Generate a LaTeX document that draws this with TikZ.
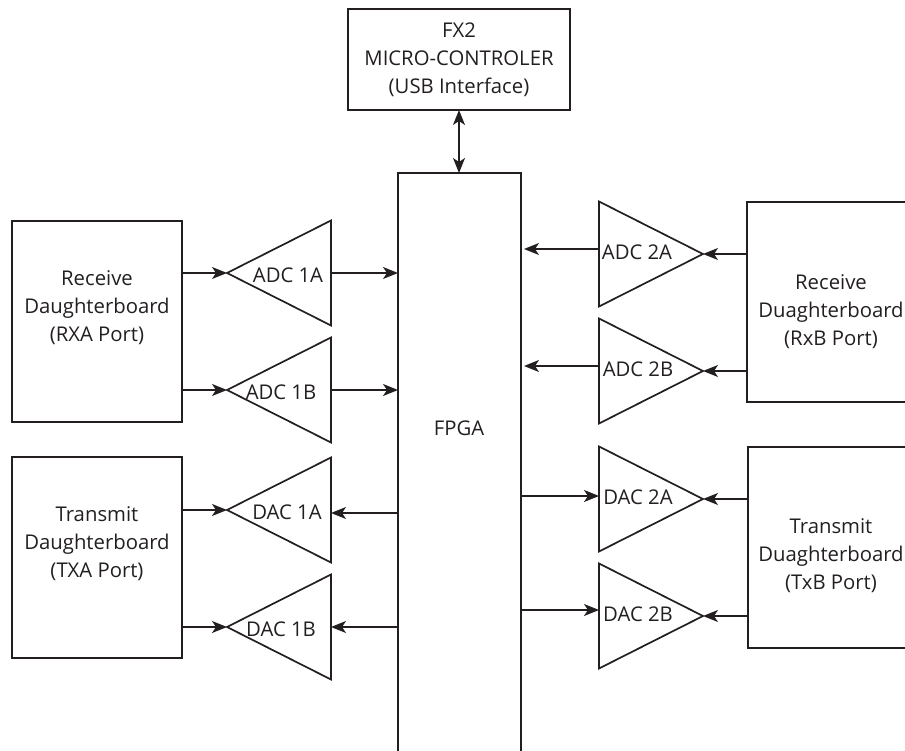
\documentclass[tikz,border=0pt]{standalone}
\usepackage{fontspec}
\setmainfont{Open Sans}
\usetikzlibrary{shapes.geometric,arrows.meta,calc}
\definecolor{ink}{RGB}{35,31,32}
\begin{document}
\begin{tikzpicture}[x=1pt,y=-1pt,
  box/.style={draw=ink, line width=1.7pt, rectangle, inner sep=0pt, outer sep=0pt},
  amp/.style={draw=ink, line width=1.7pt, isosceles triangle, isosceles triangle stretches,
              minimum width=105pt, minimum height=104pt, inner sep=0pt, outer sep=0pt},
  txt/.style={text=ink, font=\fontsize{20.3}{28}\selectfont, align=center, inner sep=0pt},
  arr/.style={draw=ink, line width=1.7pt, -{Stealth[length=15pt,width=12pt,inset=4pt]}},
  dbl/.style={draw=ink, line width=1.7pt, {Stealth[length=15pt,width=12pt,inset=4pt]}-{Stealth[length=15pt,width=12pt,inset=4pt]}}
]
\useasboundingbox (0,0) rectangle (905,751);
\clip (0,0) rectangle (905,751);

% main blocks
\node[box, minimum width=222pt, minimum height=101pt] (fx2) at (459,59.5) {};
\node[txt] (fx2T) at (459,60) {FX2\\MICRO-CONTROLER\\(USB Interface)};
\node[box, minimum width=123pt, minimum height=620pt, anchor=north] (fpga) at (459.5,173) {};
\node[txt] (fpgaT) at (459,428) {FPGA};

% daughterboards
\node[box, minimum width=170pt, minimum height=201pt] (rxa) at (97,321.5) {};
\node[txt] (rxaT) at (97,308) {Receive\\Daughterboard\\(RXA Port)};
\node[box, minimum width=170pt, minimum height=201pt] (txa) at (97,557.5) {};
\node[txt] (txaT) at (97,544) {Transmit\\Daughterboard\\(TXA Port)};
\node[box, minimum width=168pt, minimum height=200pt] (rxb) at (831,302) {};
\node[txt] (rxbT) at (831,312) {Receive\\Duaghterboard\\(RxB Port)};
\node[box, minimum width=167pt, minimum height=201pt] (txb) at (831.5,547.5) {};
\node[txt] (txbT) at (831,556) {Transmit\\Duaghterboard\\(TxB Port)};

% converters, A side (pointing left)
\node[amp, shape border rotate=180, anchor=apex] (adc1a) at (227,273) {};
\node[amp, shape border rotate=180, anchor=apex] (adc1b) at (227,390) {};
\node[amp, shape border rotate=180, anchor=apex] (dac1a) at (227,510) {};
\node[amp, shape border rotate=180, anchor=apex] (dac1b) at (227,627) {};
\node[txt] (adc1aT) at (288,275) {ADC 1A};
\node[txt] (adc1bT) at (281,392) {ADC 1B};
\node[txt] (dac1aT) at (287,512) {DAC 1A};
\node[txt] (dac1bT) at (281,629) {DAC 1B};

% converters, B side (pointing right)
\node[amp, shape border rotate=0, anchor=apex] (adc2a) at (703,254) {};
\node[amp, shape border rotate=0, anchor=apex] (adc2b) at (703,371) {};
\node[amp, shape border rotate=0, anchor=apex] (dac2a) at (703,499) {};
\node[amp, shape border rotate=0, anchor=apex] (dac2b) at (703,616) {};
\node[txt] (adc2aT) at (637,252) {ADC 2A};
\node[txt] (adc2bT) at (638,369) {ADC 2B};
\node[txt] (dac2aT) at (638,497) {DAC 2A};
\node[txt] (dac2bT) at (638,614) {DAC 2B};

% USB link
\draw[dbl] (fx2.south) -- (fx2.south |- fpga.north);

% A side connections
\draw[arr] (rxa.east |- adc1a.apex) -- (adc1a.apex);
\draw[arr] (rxa.east |- adc1b.apex) -- (adc1b.apex);
\draw[arr] (txa.east |- dac1a.apex) -- (dac1a.apex);
\draw[arr] (txa.east |- dac1b.apex) -- (dac1b.apex);
\draw[arr] (adc1a.lower side) -- (fpga.west |- adc1a.lower side);
\draw[arr] (adc1b.lower side) -- (fpga.west |- adc1b.lower side);
\draw[arr] ($(fpga.west |- dac1a.lower side)+(0,3)$) -- ($(dac1a.lower side)+(0,3)$);
\draw[arr] (fpga.west |- dac1b.lower side) -- (dac1b.lower side);

% B side connections
\draw[arr] (rxb.west |- adc2a.apex) -- (adc2a.apex);
\draw[arr] (rxb.west |- adc2b.apex) -- (adc2b.apex);
\draw[arr] (txb.west |- dac2a.apex) -- (dac2a.apex);
\draw[arr] (txb.west |- dac2b.apex) -- (dac2b.apex);
\draw[arr] ($(adc2a.lower side)+(0,-5)$) -- ($(fpga.east |- adc2a.lower side)+(3,-5)$);
\draw[arr] ($(adc2b.lower side)+(0,-5)$) -- ($(fpga.east |- adc2b.lower side)+(3,-5)$);
\draw[arr] ($(fpga.east |- dac2a.lower side)+(0,-3)$) -- ($(dac2a.lower side)+(0,-3)$);
\draw[arr] ($(fpga.east |- dac2b.lower side)+(0,-6)$) -- ($(dac2b.lower side)+(0,-6)$);
\end{tikzpicture}
\end{document}
